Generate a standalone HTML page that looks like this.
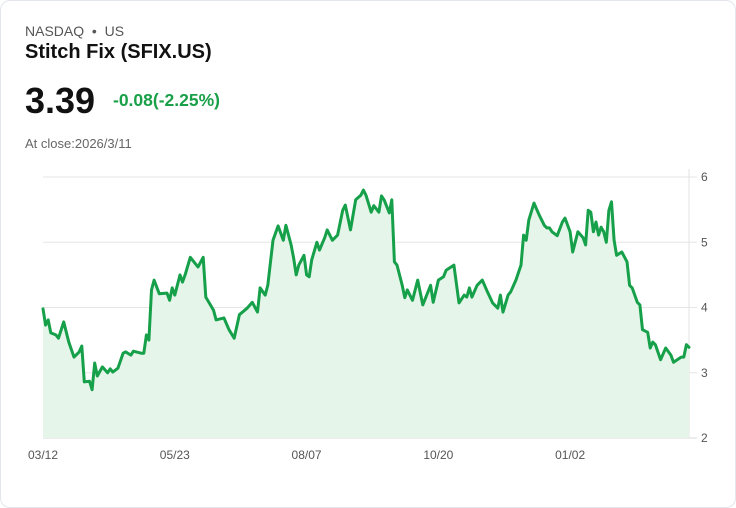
<!DOCTYPE html>
<html><head><meta charset="utf-8">
<style>
html,body{margin:0;padding:0;background:#fff;}
body{width:736px;height:508px;position:relative;overflow:hidden;font-family:"Liberation Sans",sans-serif;}
.card{position:absolute;left:0;top:0;width:734px;height:506px;border:1px solid #e3e6ea;border-radius:10px;}
.t{position:absolute;white-space:nowrap;}
</style></head><body>
<div class="card"></div>
<div class="t" style="left:25px;top:23px;font-size:14px;color:#555;">NASDAQ &nbsp;•&nbsp; US</div>
<div class="t" style="left:25px;top:41px;font-size:20px;font-weight:bold;color:#111;">Stitch Fix (SFIX.US)</div>
<div class="t" style="left:25px;top:80px;font-size:36px;font-weight:bold;color:#111;">3.39</div>
<div class="t" style="left:113px;top:90px;font-size:17.5px;font-weight:bold;color:#1aa049;">-0.08(-2.25%)</div>
<div class="t" style="left:25px;top:136px;font-size:13px;color:#666;">At close:2026/3/11</div>
<svg id="chart" width="736" height="508" style="position:absolute;left:0;top:0;"></svg>
<script>
const days=[0,1,2,3,5,6,8,10,12,14,15,16,18,19,20,21,23,25,26,27,29,31,32,34,35,38,39,40,41,42,43,45,48,49,50,51,53,54,55,57,60,62,63,66,67,70,72,74,76,79,81,83,84,86,87,89,91,93,94,96,97,98,99,101,102,103,104,106,107,109,110,112,114,116,117,119,121,123,124,125,127,128,130,131,132,134,135,136,137,139,140,141,143,145,147,150,151,153,155,156,159,161,163,164,165,166,168,170,172,174,176,177,178,180,181,183,185,186,187,188,190,192,194,195,196,197,199,201,202,204,205,207,209,210,211,212,213,214,215,216,217,218,219,220,221,222,224,226,227,228,230,231,232,234,235,236,237,239,241,243,244,247,248,249,250];
const prices=[3.98,3.73,3.81,3.61,3.58,3.53,3.78,3.47,3.24,3.32,3.41,2.86,2.87,2.74,3.15,2.95,3.09,3.00,3.06,3.01,3.07,3.30,3.32,3.27,3.33,3.30,3.30,3.58,3.50,4.27,4.42,4.21,4.22,4.11,4.30,4.19,4.50,4.39,4.50,4.77,4.62,4.77,4.16,3.96,3.81,3.84,3.66,3.53,3.89,3.99,4.08,3.93,4.30,4.19,4.34,5.03,5.25,5.03,5.26,4.96,4.76,4.50,4.65,4.80,4.50,4.47,4.73,5.00,4.88,5.07,5.19,5.03,5.11,5.49,5.57,5.19,5.65,5.72,5.80,5.72,5.46,5.56,5.46,5.71,5.65,5.45,5.65,4.70,4.65,4.34,4.15,4.27,4.11,4.42,4.04,4.34,4.08,4.42,4.47,4.57,4.65,4.07,4.19,4.16,4.30,4.16,4.34,4.42,4.24,4.07,3.99,4.19,3.93,4.19,4.24,4.42,4.65,5.11,5.03,5.34,5.60,5.42,5.26,5.22,5.22,5.16,5.10,5.31,5.37,5.16,4.85,5.16,5.07,4.96,5.49,5.46,5.16,5.31,5.11,5.23,5.16,5.00,5.49,5.62,5.03,4.80,4.85,4.70,4.34,4.30,4.08,4.04,3.66,3.62,3.38,3.47,3.43,3.20,3.38,3.27,3.16,3.24,3.24,3.43,3.39];
const yTicks=[2,3,4,5,6];
const xTickDays=[0,51,102,153,204];
const xTickLabels=["03/12","05/23","08/07","10/20","01/02"];
const NS="http://www.w3.org/2000/svg";
const svg=document.getElementById('chart');
const X0=43,X1=689,Y0=438,Y1=177,dMax=250,vMin=2,vMax=6;
function xs(d){return X0+(d/dMax)*(X1-X0);}
function ys(v){return Y0-(v-vMin)/(vMax-vMin)*(Y0-Y1);}
function mk(tag,attrs){const e=document.createElementNS(NS,tag);for(const k in attrs)e.setAttribute(k,attrs[k]);svg.appendChild(e);return e;}
yTicks.forEach((v,i)=>{
  const l=mk('line',{x1:X0,x2:X1+8,y1:ys(v),y2:ys(v),stroke:i===0?'#d8d8d8':'#e6e6e6','stroke-width':1});
  
  
  const t=mk('text',{x:X1+12,y:ys(v)+4,'font-size':12,fill:'#555','font-family':'Liberation Sans, sans-serif'});
  t.textContent=v;
  
  
});
const vl=mk('line',{x1:X1,x2:X1,y1:Y1-8,y2:Y0,stroke:'#e3e3e3','stroke-width':1});


xTickDays.forEach((d,i)=>{
  const t=mk('text',{x:xs(d),y:459,'font-size':12,fill:'#555','text-anchor':i===0?'start':'middle','font-family':'Liberation Sans, sans-serif'});
  if(i===0)t.setAttribute('x',xs(d)-15);
  t.textContent=xTickLabels[i];
  
  
});
let pd='';
days.forEach((d,i)=>{pd+=(i?'L':'M')+xs(d).toFixed(1)+','+ys(prices[i]).toFixed(1);});
const area=mk('path',{d:pd+'L'+xs(days[days.length-1])+','+Y0+'L'+xs(days[0])+','+Y0+'Z',fill:'#e5f5ea'});


const line=mk('path',{d:pd,fill:'none',stroke:'#16a04a','stroke-width':3,'stroke-linejoin':'round','stroke-linecap':'round'});


</script>
</body></html>
